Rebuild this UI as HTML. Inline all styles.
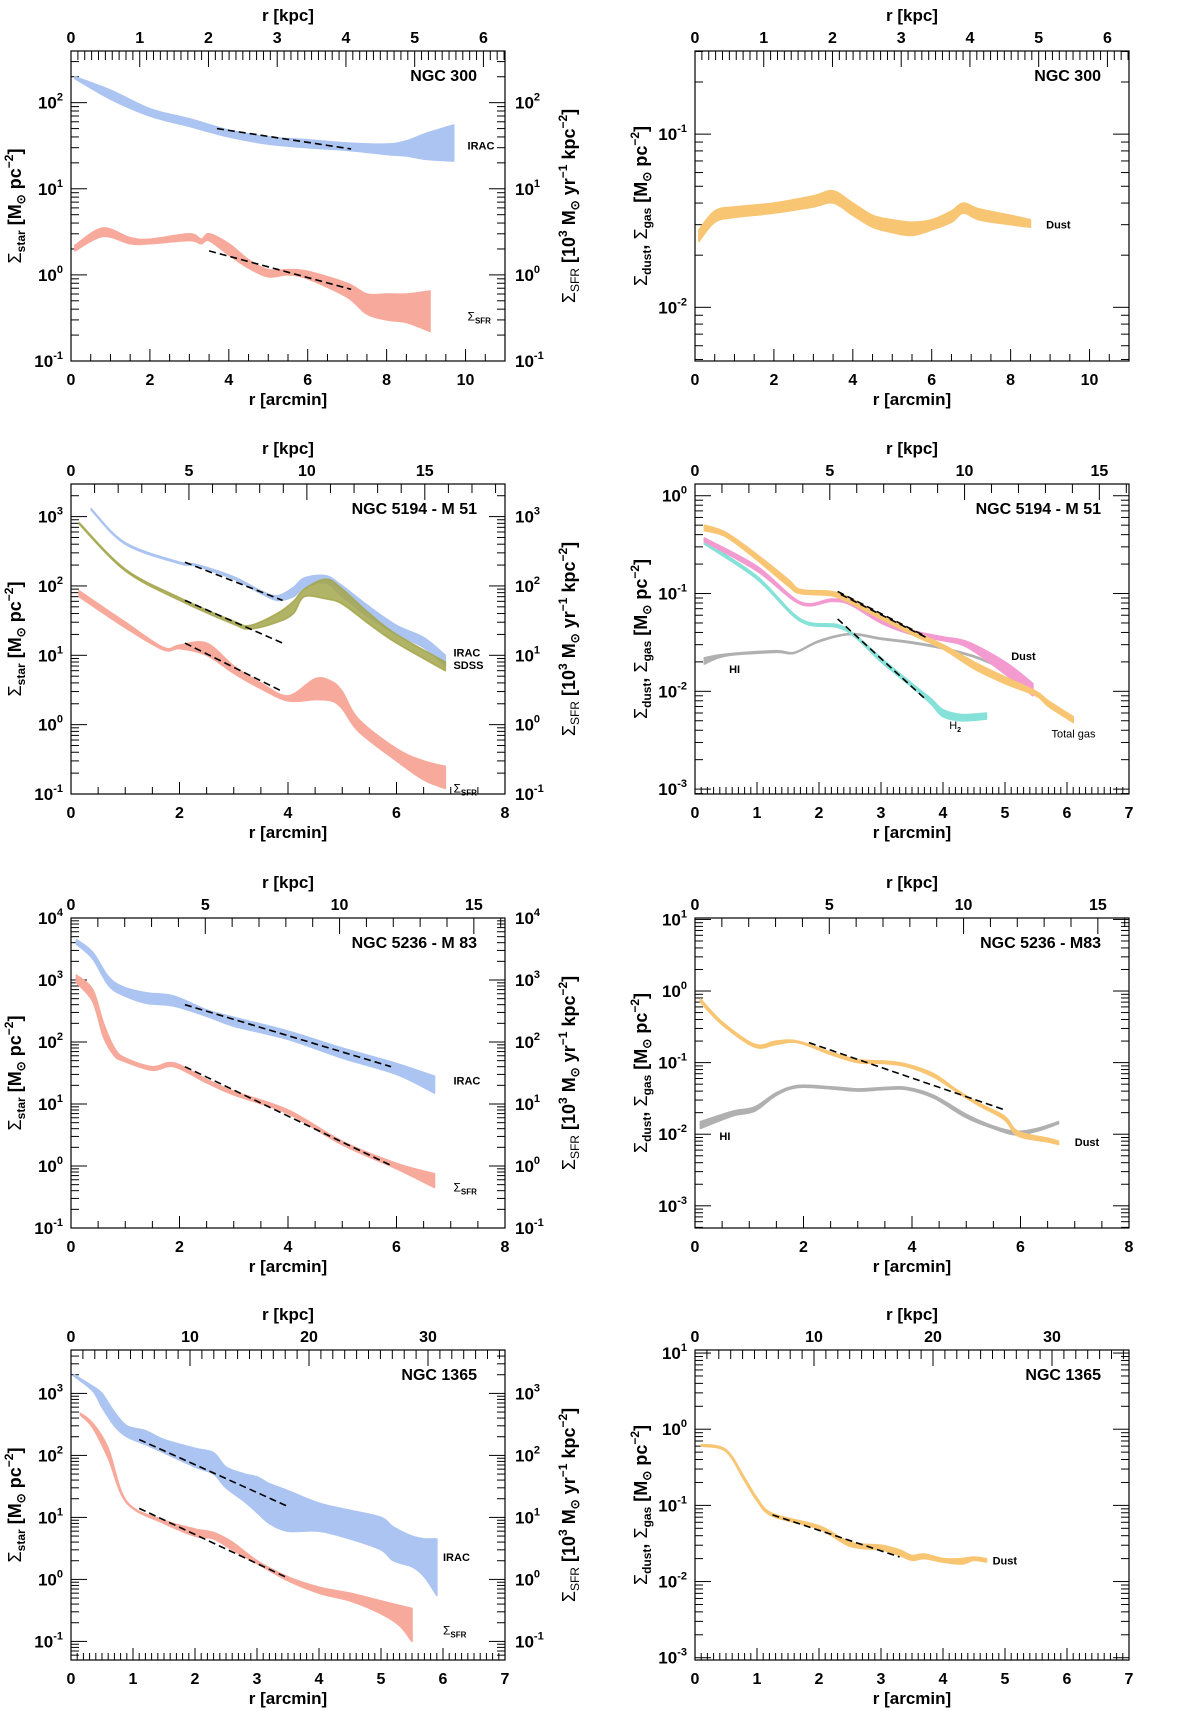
<!DOCTYPE html>
<html><head><meta charset="utf-8"><style>
html,body{margin:0;padding:0;background:#fff;}
svg{display:block;font-family:"Liberation Sans",sans-serif;}
</style></head><body>
<svg id="fig" width="1200" height="1710" viewBox="0 0 1200 1710" xmlns="http://www.w3.org/2000/svg"></svg>
<script>
// ===== DATA (r in arcmin, surface densities) =====
// NGC 300 stars / SFR
const n300IracX=[0.1,1,2,3,4,5,6,7,8,8.5,9,9.7];
const n300IracHi=[200,140,85,65,48,40,37,34,33,36,44,55];
const n300IracLo=[190,110,70,53,40,33,30,28,25,24,22,21];
const n300SfrX=[0.1,0.8,1.5,2,3,3.3,3.5,4,4.5,5,5.5,6,7,7.5,8,8.5,9.1];
const n300SfrHi=[2.2,3.5,2.7,2.6,3.0,2.6,3.0,2.3,1.5,1.15,1.15,1.1,0.8,0.6,0.6,0.6,0.65];
const n300SfrLo=[1.9,2.8,2.3,2.3,2.5,2.3,2.5,1.7,1.2,0.95,1.0,0.9,0.55,0.35,0.3,0.28,0.22];
const n300IracFit=[[3.7,50],[7.1,29]];
const n300SfrFit=[[3.5,1.9],[7.1,0.68]];
// NGC 300 dust
const n300DustX=[0.1,0.5,1,2,3,3.5,4,4.5,5,5.5,6,6.5,6.8,7.2,8,8.5];
const n300DustHi=[0.028,0.036,0.038,0.040,0.044,0.047,0.040,0.034,0.032,0.031,0.032,0.036,0.040,0.037,0.034,0.032];
const n300DustLo=[0.024,0.031,0.033,0.035,0.038,0.040,0.034,0.029,0.027,0.026,0.028,0.031,0.035,0.032,0.030,0.029];
// M51 stars / SFR
const m51IracX=[0.37,1,2,2.3,3,3.5,3.8,4.1,4.3,4.7,5,5.5,6,6.5,6.9];
const m51IracHi=[1300,420,220,205,135,85,72,95,130,140,100,50,27,18,10];
const m51IracLo=[1250,400,210,195,125,78,62,70,95,110,70,35,20,13,7];
const m51SdssX=[0.15,1,2,3,3.3,3.8,4.1,4.3,4.7,5,5.5,6,6.9];
const m51SdssHi=[820,175,68,31,27,40,60,90,125,90,40,20,8];
const m51SdssLo=[780,165,62,28,24,30,40,70,65,55,28,15,6];
const m51SfrX=[0.15,1,1.7,2,2.5,3,3.5,4,4.5,4.8,5,5.3,6,6.5,6.9];
const m51SfrHi=[85,30,13,14,15,7,4,2.6,4.6,4.2,3,1.2,0.45,0.3,0.25];
const m51SfrLo=[70,25,12,12.5,10,5.5,3.3,2.2,2.3,2.2,1.7,0.8,0.3,0.16,0.12];
const m51IracFit=[[2.1,220],[3.9,62]];
const m51SdssFit=[[2.1,62],[3.9,15]];
const m51SfrFit=[[2.1,15],[3.9,3]];
// M51 gas / dust
const m51GasX=[0.15,0.5,1,1.5,1.7,2.2,2.5,3,3.5,4,4.5,5,5.5,5.7,6.1];
const m51GasHi=[0.50,0.42,0.25,0.14,0.11,0.105,0.09,0.06,0.042,0.030,0.020,0.014,0.010,0.008,0.0055];
const m51GasLo=[0.44,0.38,0.22,0.12,0.10,0.095,0.08,0.055,0.038,0.027,0.017,0.012,0.009,0.007,0.0048];
const m51DustX=[0.15,1,1.7,2.2,2.5,3,3.5,4,4.4,5,5.45];
const m51DustHi=[0.37,0.19,0.082,0.088,0.082,0.055,0.042,0.036,0.032,0.020,0.012];
const m51DustLo=[0.34,0.17,0.078,0.083,0.077,0.050,0.038,0.033,0.028,0.015,0.009];
const m51H2X=[0.15,1,1.7,2.3,2.6,3,3.5,3.8,4,4.3,4.7];
const m51H2Hi=[0.34,0.15,0.055,0.048,0.037,0.022,0.012,0.0085,0.0065,0.0058,0.006];
const m51H2Lo=[0.32,0.14,0.052,0.045,0.035,0.020,0.011,0.0075,0.0055,0.0050,0.0052];
const m51HIX=[0.15,0.5,1.3,1.6,2,2.5,3,3.5,4,4.5,5,5.2];
const m51HIHi=[0.022,0.024,0.026,0.025,0.033,0.039,0.035,0.032,0.028,0.023,0.017,0.015];
const m51HILo=[0.019,0.023,0.025,0.0245,0.032,0.038,0.034,0.031,0.0272,0.0224,0.0166,0.0146];
const m51GasFit=[[2.3,0.105],[3.7,0.037]];
const m51DustFit=[[2.35,0.098],[3.75,0.035]];
const m51H2Fit=[[2.3,0.055],[3.7,0.0085]];
// M83 stars / SFR
const m83IracX=[0.1,0.4,0.7,1,1.4,1.9,2.5,3,4,5,6,6.7];
const m83IracHi=[4500,2800,1100,750,620,550,330,250,150,80,45,28];
const m83IracLo=[3800,2200,800,550,420,380,260,180,110,55,30,15];
const m83SfrX=[0.1,0.4,0.6,0.8,1,1.5,1.9,2.5,3,4,5,6,6.7];
const m83SfrHi=[1200,700,200,80,55,40,46,25,16,8,2.5,1.1,0.75];
const m83SfrLo=[900,450,120,60,48,35,40,22,14,7,2.2,0.9,0.45];
const m83IracFit=[[2.1,400],[5.9,40]];
const m83SfrFit=[[2.1,40],[5.9,1.02]];
// M83 gas / dust
const m83DustX=[0.1,0.5,1.1,1.5,1.9,2.5,3,3.5,3.9,4.4,4.8,5.2,5.7,5.95,6.5,6.7];
const m83DustHi=[0.78,0.37,0.18,0.20,0.20,0.14,0.11,0.105,0.095,0.07,0.043,0.028,0.018,0.011,0.0088,0.008];
const m83DustLo=[0.70,0.34,0.165,0.18,0.19,0.13,0.10,0.097,0.088,0.063,0.040,0.026,0.016,0.0095,0.0078,0.0072];
const m83HIX=[0.1,0.7,1.1,1.5,1.9,2.5,3,3.5,3.9,4.4,5,5.5,5.9,6.3,6.7];
const m83HIHi=[0.015,0.021,0.024,0.038,0.048,0.046,0.043,0.045,0.045,0.035,0.019,0.013,0.011,0.012,0.015];
const m83HILo=[0.012,0.018,0.021,0.035,0.045,0.043,0.040,0.042,0.042,0.032,0.017,0.012,0.0098,0.011,0.014];
const m83DustFit=[[2.1,0.19],[5.7,0.022]];
// NGC 1365 stars / SFR
const n1365IracX=[0.05,0.35,0.5,0.7,0.9,1.2,1.5,2,2.3,2.5,2.8,3,3.2,3.5,4,4.5,5,5.2,5.5,5.7,5.9];
const n1365IracHi=[2000,1300,1000,500,300,250,180,130,110,65,50,45,35,27,17,13,10,7,5,4.5,4.5];
const n1365IracLo=[1900,1100,600,300,200,150,110,65,50,30,18,12,8,6,6,4.5,3,2,1.6,1.1,0.55];
const n1365SfrX=[0.15,0.35,0.6,0.9,1.5,2,2.3,2.6,3,3.5,4,4.5,5,5.3,5.5];
const n1365SfrHi=[480,330,130,18,9,6.5,5.7,4,2,1.1,0.75,0.6,0.45,0.38,0.34];
const n1365SfrLo=[450,280,90,17,8,5,4.5,3,1.8,0.95,0.6,0.45,0.28,0.18,0.1];
const n1365IracFit=[[1.1,180],[3.5,15]];
const n1365SfrFit=[[1.1,14],[3.5,1.05]];
// NGC 1365 dust
const n1365DustX=[0.1,0.5,0.8,1,1.25,2,2.5,3,3.3,3.5,3.7,4,4.3,4.5,4.7];
const n1365DustHi=[0.63,0.54,0.23,0.125,0.078,0.054,0.033,0.030,0.026,0.022,0.023,0.020,0.020,0.021,0.020];
const n1365DustLo=[0.60,0.51,0.21,0.115,0.072,0.049,0.029,0.026,0.022,0.019,0.020,0.018,0.017,0.019,0.018];
const n1365DustFit=[[1.25,0.075],[3.3,0.021]];

// ===== LAYOUT =====
const NS='http://www.w3.org/2000/svg';
const svg=document.getElementById('fig');
const C={blue:'#abc4f1',salmon:'#f7aa9c',olive:'#a3a64c',orange:'#f8c572',pink:'#f39bd1',cyan:'#86e2d8',gray:'#b0b0b0'};
function mk(tag,attrs,parent){const e=document.createElementNS(NS,tag);for(const k in attrs)e.setAttribute(k,attrs[k]);(parent||svg).appendChild(e);return e;}
function P(left,top,xmax,ymin,ymax,kpc,xmaj,xmin,kmaj,kmin,title,rightLabels,name){
  return {left,top,right:left+434,bottom:top+310,xmax,ymin,ymax,kpc,xmaj,xmin,kmaj,kmin,title,rightLabels,name};
}
const L=71,R=695,T=[51,484,918,1350];
const panels=[
 P(L,T[0],11,-1,2.6,0.574,2,0.5,1,0.1,'NGC 300',true,'ngc300-stars'),
 P(R,T[0],11,-2.31,-0.52,0.574,2,0.5,1,0.1,'NGC 300',false,'ngc300-dust'),
 P(L,T[1],8,-1,3.47,2.3,2,0.5,5,1,'NGC 5194 - M 51',true,'m51-stars'),
 P(R,T[1],7,-3.05,0.12,2.3,1,0.1,5,1,'NGC 5194 - M 51',false,'m51-gas'),
 P(L,T[2],8,-1,4,2.02,2,0.5,5,1,'NGC 5236 - M 83',true,'m83-stars'),
 P(R,T[2],8,-3.31,1.02,2.02,2,0.5,5,1,'NGC 5236 - M83',false,'m83-gas'),
 P(L,T[3],7,-1.3,3.7,5.21,1,0.1,10,1,'NGC 1365',true,'ngc1365-stars'),
 P(R,T[3],7,-3.03,1.04,5.21,1,0.1,10,1,'NGC 1365',false,'ngc1365-dust')
];
function X(p,v){return p.left+v/p.xmax*(p.right-p.left);}
function Y(p,v){return p.top+(p.ymax-Math.log10(v))/(p.ymax-p.ymin)*(p.bottom-p.top);}

function txt(p,x,y,s,opts,g){
  const t=mk('text',Object.assign({x:x,y:y,'font-size':16,'font-weight':'bold',fill:'#000'},opts||{}),g);
  t.textContent=s;return t;
}
function pow10(g,x,y,e,anchor){
  const t=mk('text',{x:x,y:y,'font-size':17,'font-weight':'bold','text-anchor':anchor},g);
  
  
  const a=mk('tspan',{},t);a.textContent='10';
  const b=mk('tspan',{dy:-8,'font-size':11},t);b.textContent=String(e);
}

function axes(p,i){
  const g=mk('g',{});
  
  
  const fr=mk('rect',{x:p.left,y:p.top,width:p.right-p.left,height:p.bottom-p.top,fill:'none',stroke:'#000','stroke-width':1.2},g);
  
  
  for(let v=0;v<=p.xmax+1e-6;v+=p.xmin){
    const maj=Math.abs(v/p.xmaj-Math.round(v/p.xmaj))<1e-6;
    const x=X(p,v),len=maj?12:7;
    mk('line',{x1:x,x2:x,y1:p.bottom,y2:p.bottom-len,stroke:'#000','stroke-width':1},g);
    if(maj){const t=txt(p,x,p.bottom+24,String(Math.round(v)),{'text-anchor':'middle','font-size':16},g);
      }
  }
  const kmax=p.xmax*p.kpc;
  for(let k=0;k<=kmax+1e-6;k+=p.kmin){
    const maj=Math.abs(k/p.kmaj-Math.round(k/p.kmaj))<1e-6;
    const x=X(p,k/p.kpc),len=maj?16:9;
    mk('line',{x1:x,x2:x,y1:p.top,y2:p.top+len,stroke:'#000','stroke-width':1},g);
    if(maj){const t=txt(p,x,p.top-8,String(Math.round(k)),{'text-anchor':'middle','font-size':16},g);
      }
  }
  for(let d=Math.floor(p.ymin);d<=Math.ceil(p.ymax);d++){
    for(let m=1;m<=9;m++){
      const lv=d+Math.log10(m);
      if(lv<p.ymin-1e-6||lv>p.ymax+1e-6)continue;
      const y=Y(p,Math.pow(10,lv)),len=m===1?16:8;
      mk('line',{x1:p.left,x2:p.left+len,y1:y,y2:y,stroke:'#000','stroke-width':1},g);
      mk('line',{x1:p.right,x2:p.right-len,y1:y,y2:y,stroke:'#000','stroke-width':1},g);
      if(m===1){
        pow10(g,p.left-8,y+6,d,'end');
        if(p.rightLabels)pow10(g,p.right+10,y+6,d,'start');
      }
    }
  }
  const xl=txt(p,(p.left+p.right)/2,p.bottom+44,'r [arcmin]',{'text-anchor':'middle','font-size':17},g);
  
  const kl=txt(p,(p.left+p.right)/2,p.top-30,'r [kpc]',{'text-anchor':'middle','font-size':17},g);
  
  const tt=txt(p,p.right-28,p.top+30,p.title,{'text-anchor':'end','font-size':16},g);
  
  const cy=(p.top+p.bottom)/2;
  if(p.rightLabels){
    const a=mk('text',{transform:'translate('+(p.left-50)+','+cy+') rotate(-90)','text-anchor':'middle','font-size':18,'font-weight':'bold'},g);
    
    a.innerHTML='<tspan font-weight="normal">Σ</tspan><tspan font-size="12" dy="4">star</tspan><tspan dy="-4"> [M</tspan><tspan font-size="12" dy="4">⊙</tspan><tspan dy="-4"> pc</tspan><tspan font-size="12" dy="-8">−2</tspan><tspan dy="8">]</tspan>';
    const b=mk('text',{transform:'translate('+(p.right+70)+','+cy+') rotate(-90)','text-anchor':'middle','font-size':18,'font-weight':'bold'},g);
    
    b.innerHTML='<tspan font-weight="normal">Σ</tspan><tspan font-size="12" dy="4" font-weight="normal">SFR</tspan><tspan dy="-4"> [10</tspan><tspan font-size="12" dy="-8">3</tspan><tspan dy="8"> M</tspan><tspan font-size="12" dy="4">⊙</tspan><tspan dy="-4"> yr</tspan><tspan font-size="12" dy="-8">−1</tspan><tspan dy="8"> kpc</tspan><tspan font-size="12" dy="-8">−2</tspan><tspan dy="8">]</tspan>';
  } else {
    const a=mk('text',{transform:'translate('+(p.left-48)+','+cy+') rotate(-90)','text-anchor':'middle','font-size':18,'font-weight':'bold'},g);
    
    a.innerHTML='<tspan font-weight="normal">Σ</tspan><tspan font-size="12" dy="4">dust</tspan><tspan dy="-4">, </tspan><tspan font-weight="normal">Σ</tspan><tspan font-size="12" dy="4">gas</tspan><tspan dy="-4"> [M</tspan><tspan font-size="12" dy="4">⊙</tspan><tspan dy="-4"> pc</tspan><tspan font-size="12" dy="-8">−2</tspan><tspan dy="8">]</tspan>';
  }
  const cp=mk('clipPath',{id:'clip'+i});
  mk('rect',{x:p.left,y:p.top,width:p.right-p.left,height:p.bottom-p.top},cp);
}
// smooth Catmull-Rom through screen points, returns segments (without initial M)
function smooth(pts){
  let d='';
  for(let k=0;k<pts.length-1;k++){
    const p0=pts[Math.max(0,k-1)],p1=pts[k],p2=pts[k+1],p3=pts[Math.min(pts.length-1,k+2)];
    const c1=[p1[0]+(p2[0]-p0[0])/6,p1[1]+(p2[1]-p0[1])/6];
    const c2=[p2[0]-(p3[0]-p1[0])/6,p2[1]-(p3[1]-p1[1])/6];
    d+='C'+c1[0].toFixed(1)+','+c1[1].toFixed(1)+' '+c2[0].toFixed(1)+','+c2[1].toFixed(1)+' '+p2[0].toFixed(1)+','+p2[1].toFixed(1);
  }
  return d;
}
function band(p,i,xs,lo,hi,color,name,op){
  const up=xs.map((x,k)=>[X(p,x),Y(p,hi[k])]);
  const dn=xs.map((x,k)=>[X(p,x),Y(p,lo[k])]).reverse();
  let d='M'+up[0][0].toFixed(1)+','+up[0][1].toFixed(1)+smooth(up)+'L'+dn[0][0].toFixed(1)+','+dn[0][1].toFixed(1)+smooth(dn)+'Z';
  const e=mk('path',{d:d,fill:color,stroke:color,'stroke-width':1.6,'stroke-linejoin':'round','clip-path':'url(#clip'+i+')','fill-opacity':op||1,'stroke-opacity':op||1});
  
  
}
function fit(p,i,pts,name){
  const e=mk('line',{x1:X(p,pts[0][0]),y1:Y(p,pts[0][1]),x2:X(p,pts[1][0]),y2:Y(p,pts[1][1]),stroke:'#000','stroke-width':1.6,'stroke-dasharray':'7,4','clip-path':'url(#clip'+i+')'});
  
  
}
function lab(p,x,y,html,name){
  const t=mk('text',{x:X(p,x),y:Y(p,y)+4,'font-size':11,'font-weight':'bold'});
  
  
  t.innerHTML=html;
}
const SFR='<tspan font-weight="normal" font-size="12">Σ</tspan><tspan font-size="8" dy="3">SFR</tspan>';

panels.forEach((p,i)=>axes(p,i));
let p=panels[0];
band(p,0,n300IracX,n300IracLo,n300IracHi,C.blue,'irac-band');
band(p,0,n300SfrX,n300SfrLo,n300SfrHi,C.salmon,'sfr-band');
fit(p,0,n300IracFit,'irac-fit');fit(p,0,n300SfrFit,'sfr-fit');
lab(p,10.05,32,'IRAC','irac-label');lab(p,10.05,0.33,SFR,'sfr-label');

p=panels[1];
band(p,1,n300DustX,n300DustLo,n300DustHi,C.orange,'dust-band');
lab(p,8.9,0.03,'Dust','dust-label');

p=panels[2];
band(p,2,m51IracX,m51IracLo,m51IracHi,C.blue,'irac-band');
band(p,2,m51SdssX,m51SdssLo,m51SdssHi,C.olive,'sdss-band',0.85);
band(p,2,m51SfrX,m51SfrLo,m51SfrHi,C.salmon,'sfr-band');
fit(p,2,m51IracFit,'irac-fit');fit(p,2,m51SdssFit,'sdss-fit');fit(p,2,m51SfrFit,'sfr-fit');
lab(p,7.05,11,'IRAC','irac-label');lab(p,7.05,7.2,'SDSS','sdss-label');lab(p,7.05,0.12,SFR,'sfr-label');

p=panels[3];
band(p,3,m51HIX,m51HILo,m51HIHi,C.gray,'hi-line');
band(p,3,m51H2X,m51H2Lo,m51H2Hi,C.cyan,'h2-band');
band(p,3,m51DustX,m51DustLo,m51DustHi,C.pink,'dust-band');
band(p,3,m51GasX,m51GasLo,m51GasHi,C.orange,'total-gas-band');
fit(p,3,m51GasFit,'gas-fit');fit(p,3,m51DustFit,'dust-fit');fit(p,3,m51H2Fit,'h2-fit');
lab(p,0.55,0.017,'HI','hi-label');lab(p,5.1,0.023,'Dust','dust-label');
lab(p,4.1,0.0045,'<tspan font-weight="normal">H</tspan><tspan font-size="7" dy="3">2</tspan>','h2-label');
lab(p,5.75,0.0037,'<tspan font-weight="normal">Total gas</tspan>','total-gas-label');

p=panels[4];
band(p,4,m83IracX,m83IracLo,m83IracHi,C.blue,'irac-band');
band(p,4,m83SfrX,m83SfrLo,m83SfrHi,C.salmon,'sfr-band');
fit(p,4,m83IracFit,'irac-fit');fit(p,4,m83SfrFit,'sfr-fit');
lab(p,7.05,24,'IRAC','irac-label');lab(p,7.05,0.45,SFR,'sfr-label');

p=panels[5];
band(p,5,m83HIX,m83HILo,m83HIHi,C.gray,'hi-band');
band(p,5,m83DustX,m83DustLo,m83DustHi,C.orange,'dust-band');
fit(p,5,m83DustFit,'dust-fit');
lab(p,0.45,0.0095,'HI','hi-label');lab(p,7.0,0.0078,'Dust','dust-label');

p=panels[6];
band(p,6,n1365IracX,n1365IracLo,n1365IracHi,C.blue,'irac-band');
band(p,6,n1365SfrX,n1365SfrLo,n1365SfrHi,C.salmon,'sfr-band');
fit(p,6,n1365IracFit,'irac-fit');fit(p,6,n1365SfrFit,'sfr-fit');
lab(p,6.0,2.3,'IRAC','irac-label');lab(p,6.0,0.15,SFR,'sfr-label');

p=panels[7];
band(p,7,n1365DustX,n1365DustLo,n1365DustHi,C.orange,'dust-band');
fit(p,7,n1365DustFit,'dust-fit');
lab(p,4.8,0.019,'Dust','dust-label');
</script>
</body></html>
